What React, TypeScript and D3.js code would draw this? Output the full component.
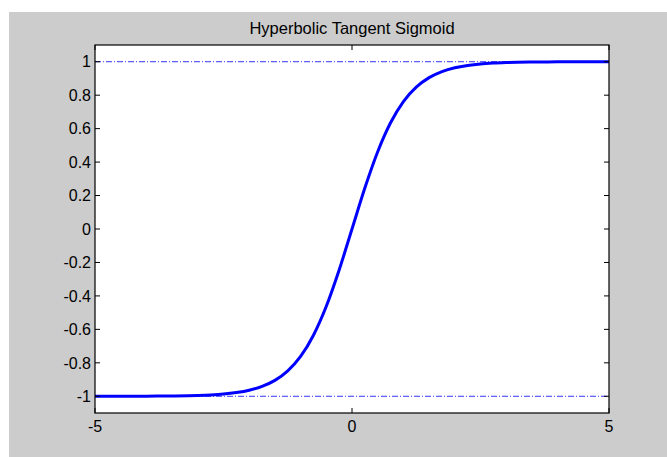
import React from "react";
import * as d3 from "d3";

const title = "Hyperbolic Tangent Sigmoid";
const xValues = [-5, -4.5, -4, -3.5, -3, -2.75, -2.5, -2.25, -2, -1.75, -1.5, -1.25, -1, -0.75, -0.5, -0.25, 0, 0.25, 0.5, 0.75, 1, 1.25, 1.5, 1.75, 2, 2.25, 2.5, 2.75, 3, 3.5, 4, 4.5, 5];
const yValues = [-0.9999, -0.9998, -0.9993, -0.998, -0.995, -0.992, -0.987, -0.978, -0.964, -0.941, -0.905, -0.848, -0.762, -0.635, -0.462, -0.245, 0, 0.245, 0.462, 0.635, 0.762, 0.848, 0.905, 0.941, 0.964, 0.978, 0.987, 0.992, 0.995, 0.998, 0.9993, 0.9998, 0.9999];
const refLevels = [1, -1];
const xTicks = [-5, 0, 5];
const yTicks = [-1, -0.8, -0.6, -0.4, -0.2, 0, 0.2, 0.4, 0.6, 0.8, 1];
const xDomain = [-5, 5];
const yDomain = [-1.1, 1.1];

export default function App() {
  const W = 667, H = 457;
  const left = 95, right = 609, top = 45, bottom = 413;
  const x = d3.scaleLinear().domain(xDomain).range([left, right]);
  const y = d3.scaleLinear().domain(yDomain).range([bottom, top]);
  const pts = xValues.map((v, i) => [v, yValues[i]] as [number, number]);
  const line = d3.line<[number, number]>().x(d => x(d[0])).y(d => y(d[1])).curve(d3.curveMonotoneX);
  const font = "'Liberation Sans', Arial, sans-serif";
  const tl = 5;
  return (
    <svg width={W} height={H} style={{ position: "absolute", left: 0, top: 0 }}>
      <rect x={9} y={12} width={W - 9} height={H - 12} fill="#cccccc" />
      <rect x={left} y={top} width={right - left} height={bottom - top} fill="#ffffff" />
      {refLevels.map(r => (
        <line key={r} x1={left} x2={right} y1={y(r)} y2={y(r)} stroke="#0000ff" strokeWidth={0.8} strokeDasharray="6 2 1 2" />
      ))}
      <path d={line(pts) || ""} fill="none" stroke="#0000ff" strokeWidth={3} />
      <rect x={left} y={top} width={right - left} height={bottom - top} fill="none" stroke="#000" strokeWidth={1.2} />
      {yTicks.map(t => (
        <g key={t}>
          <line x1={left} x2={left + tl} y1={y(t)} y2={y(t)} stroke="#000" />
          <line x1={right} x2={right - tl} y1={y(t)} y2={y(t)} stroke="#000" />
          <text x={left - 4} y={y(t)} dy="0.36em" textAnchor="end" fontFamily={font} fontSize={16}>{String(t)}</text>
        </g>
      ))}
      {xTicks.map(t => (
        <g key={t}>
          <line x1={x(t)} x2={x(t)} y1={bottom} y2={bottom - tl} stroke="#000" />
          <line x1={x(t)} x2={x(t)} y1={top} y2={top + tl} stroke="#000" />
          <text x={x(t)} y={bottom + 19} textAnchor="middle" fontFamily={font} fontSize={16}>{String(t)}</text>
        </g>
      ))}
      <text x={(left + right) / 2} y={34} textAnchor="middle" fontFamily={font} fontSize={16.5}>{title}</text>
    </svg>
  );
}
